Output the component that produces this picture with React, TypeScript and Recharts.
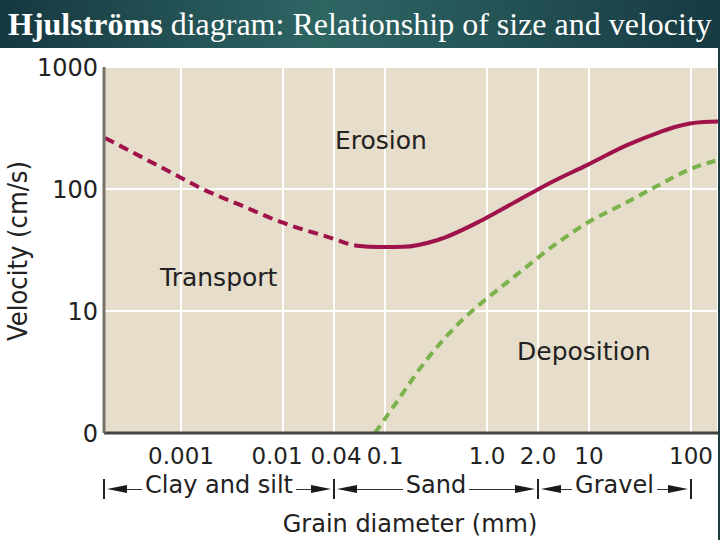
import React from 'react';
import { LineChart, Line, XAxis, YAxis, CartesianGrid, ReferenceDot } from 'recharts';

// x is a schematic log position: 0.001 -> -3, 0.01 -> -2, 0.04 -> -1.5, 0.1 -> -1, 1 -> 0, 2 -> 0.5, 10 -> 1, 100 -> 2
const xTickPos = [-3, -2, -1.5, -1, 0, 0.5, 1, 2];
const xTickLabels = ['0.001', '0.01', '0.04', '0.1', '1.0', '2.0', '10', '100'];
const yTicks = [1, 10, 100, 1000];
const yTickLabels = ['0', '10', '100', '1000'];

// velocity (cm/s)
const erosion = [
  { x: -3.745, v: 262 },
  { x: -3.01, v: 125 },
  { x: -2.81, v: 102 },
  { x: -2.42, v: 74 },
  { x: -2.03, v: 54 },
  { x: -1.54, v: 40 },
  { x: -1.275, v: 34.3 },
  { x: -1.05, v: 33.5 },
  { x: -0.82, v: 33.6 },
  { x: -0.49, v: 38 },
  { x: -0.04, v: 56 },
  { x: 0.294, v: 79.7 },
  { x: 0.618, v: 112 },
  { x: 0.98, v: 157 },
  { x: 1.373, v: 229 },
  { x: 1.696, v: 293 },
  { x: 1.843, v: 322 },
  { x: 1.99, v: 344 },
  { x: 2.127, v: 354 },
  { x: 2.265, v: 357 },
];

const deposition = [
  { x: -1.098, v: 1 },
  { x: -0.92, v: 1.63 },
  { x: -0.59, v: 4 },
  { x: -0.265, v: 8.1 },
  { x: -0.04, v: 11.9 },
  { x: 0.225, v: 17.9 },
  { x: 0.716, v: 37.5 },
  { x: 0.98, v: 52.6 },
  { x: 1.373, v: 78 },
  { x: 1.696, v: 109 },
  { x: 1.99, v: 145 },
  { x: 2.265, v: 173 },
];

const regionLabels = [
  { name: 'Erosion', x: -1.04, v: 252 },
  { name: 'Transport', x: -2.63, v: 19 },
  { name: 'Deposition', x: 0.95, v: 4.7 },
];

const sizeClasses = ['Clay and silt', 'Sand', 'Gravel'];
const sizeBounds = [-3.755, -1.5, 0.5, 2];

const W = 720;
const H = 540;
const PLOT = { left: 104, top: 67, right: 718, bottom: 433 };
const X_DOMAIN: [number, number] = [-3.755, 2.265];
const Y_AXIS_W = 60;
const X_AXIS_H = 40;
const FONT = '"DejaVu Sans", sans-serif';
const xLabelNudge = [0, -6, 2, 0, 0, 0, 0, 0];

// erosion curve: dashed for the first stretch (silt), then solid
const ERO_DASHES = 17;
const erosionDash = [...Array(ERO_DASHES).fill('10 6'), '3000 0'].join(' ');

const px = (x: number) =>
  PLOT.left + ((x - X_DOMAIN[0]) / (X_DOMAIN[1] - X_DOMAIN[0])) * (PLOT.right - PLOT.left);

const XTick = (props: any) => {
  const { x, y, payload } = props;
  const i = xTickPos.indexOf(payload.value);
  return (
    <text x={x + (xLabelNudge[i] || 0)} y={y + 17} textAnchor="middle" fill="#222" fontSize={23} fontFamily={FONT}>
      {xTickLabels[i]}
    </text>
  );
};

const arrowL = {
  width: 0, height: 0,
  borderTop: '4.5px solid transparent',
  borderBottom: '4.5px solid transparent',
  borderRight: '20px solid #1a1a1a',
};
const arrowR = {
  width: 0, height: 0,
  borderTop: '4.5px solid transparent',
  borderBottom: '4.5px solid transparent',
  borderLeft: '20px solid #1a1a1a',
};
const rule = { flex: 1, borderTop: '1.5px solid #333' };

function SizeRow() {
  return (
    <>
      {sizeClasses.map((name, i) => {
        const a = px(sizeBounds[i]);
        const b = px(sizeBounds[i + 1]);
        return (
          <div
            key={name}
            style={{
              position: 'absolute', left: a + 3, width: b - a - 6, top: 478, height: 22,
              display: 'flex', alignItems: 'center',
            }}
          >
            <div style={arrowL} />
            <div style={rule} />
            <span style={{ position: 'relative', top: -4, padding: '0 3px', font: `24px ${FONT}`, lineHeight: '22px', color: '#222' }}>
              {name}
            </span>
            <div style={rule} />
            <div style={arrowR} />
          </div>
        );
      })}
      {sizeBounds.map((bd) => (
        <div key={bd} style={{ position: 'absolute', left: px(bd) - 1, top: 479, width: 2, height: 20, background: '#222' }} />
      ))}
    </>
  );
}

export default function App() {
  return (
    <div style={{ position: 'absolute', left: 0, top: 0, width: W, height: H, background: '#fff', overflow: 'hidden' }}>
      <LineChart
        width={W}
        height={H}
        margin={{ top: PLOT.top, right: W - PLOT.right, bottom: H - PLOT.bottom - X_AXIS_H, left: PLOT.left - Y_AXIS_W }}
      >
        <CartesianGrid fill="#e6ddca" stroke="#ffffff" strokeWidth={2} />
        <XAxis
          type="number"
          dataKey="x"
          domain={X_DOMAIN}
          allowDataOverflow
          ticks={xTickPos}
          height={X_AXIS_H}
          tickLine={false}
          tickSize={6}
          tickMargin={8}
          axisLine={{ stroke: '#45443f', strokeWidth: 3 }}
          tick={<XTick />}
          interval={0}
        />
        <YAxis
          type="number"
          dataKey="v"
          scale="log"
          domain={[1, 1000]}
          allowDataOverflow
          ticks={yTicks}
          tickFormatter={(t: number) => yTickLabels[yTicks.indexOf(t)]}
          width={Y_AXIS_W}
          tickLine={false}
          tickSize={4}
          tickMargin={2}
          axisLine={{ stroke: '#77746b', strokeWidth: 3 }}
          tick={{ fontSize: 24, fill: '#222', fontFamily: 'DejaVu Sans' }}
          interval={0}
        />
        <Line data={erosion} dataKey="v" type="monotone" stroke="#a0124a" strokeWidth={4}
          strokeDasharray={erosionDash} dot={false} activeDot={false} isAnimationActive={false} />
        <Line data={deposition} dataKey="v" type="monotone" stroke="#7bb24c" strokeWidth={4}
          strokeDasharray="9 6" dot={false} activeDot={false} isAnimationActive={false} />
        {regionLabels.map((r) => (
          <ReferenceDot key={r.name} x={r.x} y={r.v} r={0} fill="none" stroke="none"
            label={{ value: r.name, position: 'center', fill: '#222', fontSize: 25, fontFamily: 'DejaVu Sans' }} />
        ))}
      </LineChart>

      <svg width={W} height={H} style={{ position: 'absolute', left: 0, top: 0, pointerEvents: 'none' }}>
        <defs>
          <linearGradient id="titleBg" x1="0" y1="0" x2="1" y2="0">
            <stop offset="0%" stopColor="#163840" />
            <stop offset="45%" stopColor="#2e6664" />
            <stop offset="100%" stopColor="#173a42" />
          </linearGradient>
        </defs>
        <rect x={0} y={0} width={W} height={48} fill="url(#titleBg)" />
        <text x={8} y={35} fill="#fff" fontFamily='"Liberation Serif", serif' fontSize={32}>
          <tspan fontWeight="bold">Hjulströms</tspan> diagram: Relationship of size and velocity
        </text>
        <rect x={718} y={48} width={2} height={H - 48} fill="#1d3c40" />
        <text transform="translate(27,251) rotate(-90)" textAnchor="middle" fill="#222"
          fontFamily={FONT} fontSize={26} textLength={180} lengthAdjust="spacingAndGlyphs">
          Velocity (cm/s)
        </text>
        <text x={410} y={532} textAnchor="middle" fill="#222" fontFamily={FONT} fontSize={24}>
          Grain diameter (mm)
        </text>
      </svg>
      <SizeRow />
    </div>
  );
}
